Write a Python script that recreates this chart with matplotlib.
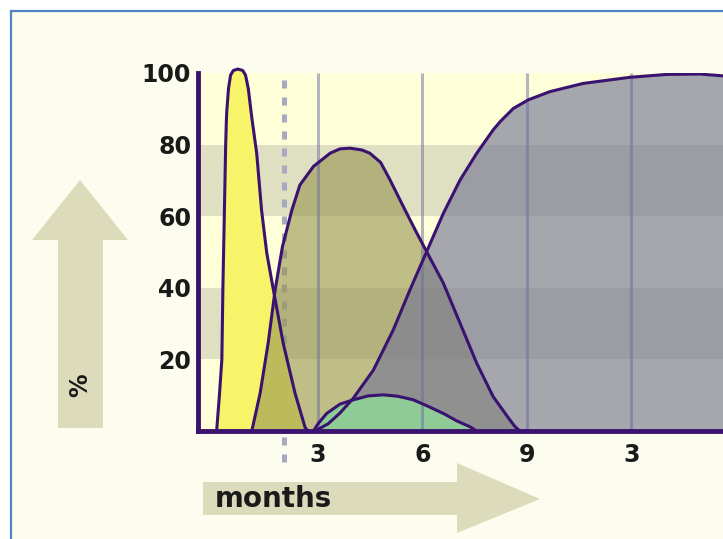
import matplotlib
matplotlib.use("Agg")
import matplotlib.pyplot as plt
from matplotlib.patches import Polygon, Rectangle

# ---------------- data (months, %) ----------------
yellow_x = [0.09, 0.17, 0.24, 0.27, 0.31, 0.35, 0.37, 0.38, 0.43, 0.49, 0.57, 0.70,
            0.84, 0.92, 1.00, 1.08, 1.11, 1.24, 1.38, 1.53, 1.72, 2.00, 2.34, 2.63, 2.71]
yellow_y = [0, 10, 20, 40, 60, 80, 86.8, 89.1, 95.6, 99.4, 100.7, 101.1,
            100.7, 99.4, 95.6, 89.1, 86.8, 77.6, 61.7, 49.7, 39.4, 24.6, 10.6, 1, 0]

olive_x = [1.10, 1.34, 1.57, 1.77, 1.98, 2.25, 2.48, 2.87, 3.35, 3.63, 3.92, 4.26,
           4.49, 4.80, 5.05, 5.45, 5.80, 6.12, 6.60, 7.08, 7.56, 8.03, 8.51, 8.66, 8.80]
olive_y = [0, 10.6, 24.6, 39.4, 51.5, 61.7, 68.7, 73.9, 77.6, 78.8, 79.0, 78.5,
           77.6, 75.0, 70.5, 62.7, 56.0, 50.1, 41.3, 30.1, 18.9, 9.6, 3.1, 1.2, 0]

green_x = [2.87, 3.00, 3.25, 3.63, 4.01, 4.44, 4.88, 5.30, 5.74, 6.16, 6.60, 6.99, 7.36, 7.56]
green_y = [0, 2, 4.9, 7.5, 8.7, 9.8, 10.1, 9.7, 8.7, 6.9, 4.9, 2.8, 1.2, 0]

grey_x = [2.91, 3.29, 3.63, 4.01, 4.59, 5.16, 5.64, 6.12, 6.60, 7.08, 7.56, 8.03,
          8.23, 8.61, 9.04, 9.66, 10.62, 11.96, 13.01, 13.97, 14.63, 14.90]
grey_y = [0, 2, 5, 9.1, 17, 28.2, 39.4, 50.1, 60.8, 70.1, 77.6, 84.1,
          86.4, 90.1, 92.5, 94.8, 97.1, 98.8, 99.6, 99.7, 99.2, 99.0]

x_ticks = [3, 6, 9, 12]
x_labels = ["3", "6", "9", "3"]
y_ticks = [20, 40, 60, 80, 100]
y_labels = ["20", "40", "60", "80", "100"]
dotted_x = 2.02

# ---------------- styling ----------------
W, H = 723, 539
OUT = "#3a1270"
LIGHT = "#fefed9"
DARK = "#dfdfc1"
ARROW = "#dcdcbd"

fig = plt.figure(figsize=(W / 100, H / 100), dpi=100)
fig.patch.set_facecolor("white")

def fp(x, y):
    return (x / W, 1 - y / H)

# frame
frame = Rectangle(fp(11, 600), 1.2, (600 - 11) / H, transform=fig.transFigure,
                  facecolor="#fdfdef", edgecolor="#5282c6", lw=1.6, zorder=-2)
fig.patches.append(frame)

# arrows
va = Polygon([fp(58, 428), fp(103, 428), fp(103, 240), fp(128, 240), fp(80, 180),
              fp(32, 240), fp(58, 240)], closed=True, transform=fig.transFigure,
             facecolor=ARROW, edgecolor="none", zorder=-1)
ha = Polygon([fp(203, 482), fp(457, 482), fp(457, 463), fp(540, 499), fp(457, 533),
              fp(457, 515), fp(203, 515)], closed=True, transform=fig.transFigure,
             facecolor=ARROW, edgecolor="none", zorder=-1)
fig.patches.extend([va, ha])

fig.text(*fp(80, 385), "%", rotation=90, ha="center", va="center",
         fontsize=17, fontweight="bold", color="#1a1a1a", family="DejaVu Sans")
fig.text(*fp(215, 499), "months", ha="left", va="center",
         fontsize=20, fontweight="bold", color="#1a1a1a", family="DejaVu Sans")

# axes
x0, y0 = fp(198, 431)
x1, y1 = fp(723, 73)
ax = fig.add_axes([x0, y0, x1 - x0, y1 - y0])
ax.set_xlim(-0.445, 14.63)
ax.set_ylim(0, 100)
ax.set_facecolor(LIGHT)
ax.axhspan(20, 40, color=DARK, zorder=0.5, lw=0)
ax.axhspan(60, 80, color=DARK, zorder=0.5, lw=0)

# dotted marker line
ax.plot([dotted_x, dotted_x], [-8.7, 100], color="#a8a8c0", lw=3.6,
        linestyle=(0, (1.6, 1.8)), zorder=1.5, clip_on=False, solid_capstyle="butt")

# fills
ax.fill_between(yellow_x, 0, yellow_y, color="#f7f46a", lw=0, zorder=2, clip_on=False)
ax.fill_between(olive_x, 0, olive_y, color=(150/255, 148/255, 80/255), alpha=0.6, lw=0, zorder=3)
ax.fill_between(grey_x, 0, grey_y, color=(120/255, 120/255, 150/255), alpha=0.65, lw=0, zorder=4)
ax.fill_between(green_x, 0, green_y, color="#8ecb96", lw=0, zorder=4.5)

# vertical grid lines
ax.vlines(x_ticks, 0, 100, color="#6c6ca0", alpha=0.5, lw=2.2, zorder=5)

# outlines
ax.plot(yellow_x, yellow_y, color=OUT, lw=2.2, zorder=6, clip_on=False, solid_joinstyle="round")
ax.plot(olive_x, olive_y, color=OUT, lw=2.2, zorder=6, solid_joinstyle="round")
ax.plot(grey_x, grey_y, color=OUT, lw=2.2, zorder=6, solid_joinstyle="round")
ax.plot(green_x, green_y, color=OUT, lw=2.2, zorder=6, solid_joinstyle="round")

# spines & ticks
for s in ["top", "right"]:
    ax.spines[s].set_visible(False)
for s in ["left", "bottom"]:
    ax.spines[s].set_color(OUT)
    ax.spines[s].set_linewidth(3.5)
    ax.spines[s].set_zorder(7)

ax.set_xticks(x_ticks)
ax.set_xticklabels(x_labels)
ax.set_yticks(y_ticks)
ax.set_yticklabels(y_labels)
ax.tick_params(axis="both", length=0, labelsize=17, colors="#1a1a1a")
ax.tick_params(axis="y", pad=5)
ax.tick_params(axis="x", pad=9)
for lab in ax.get_xticklabels() + ax.get_yticklabels():
    lab.set_fontweight("bold")
    lab.set_family("DejaVu Sans")

fig.savefig("out.png", dpi=100)
